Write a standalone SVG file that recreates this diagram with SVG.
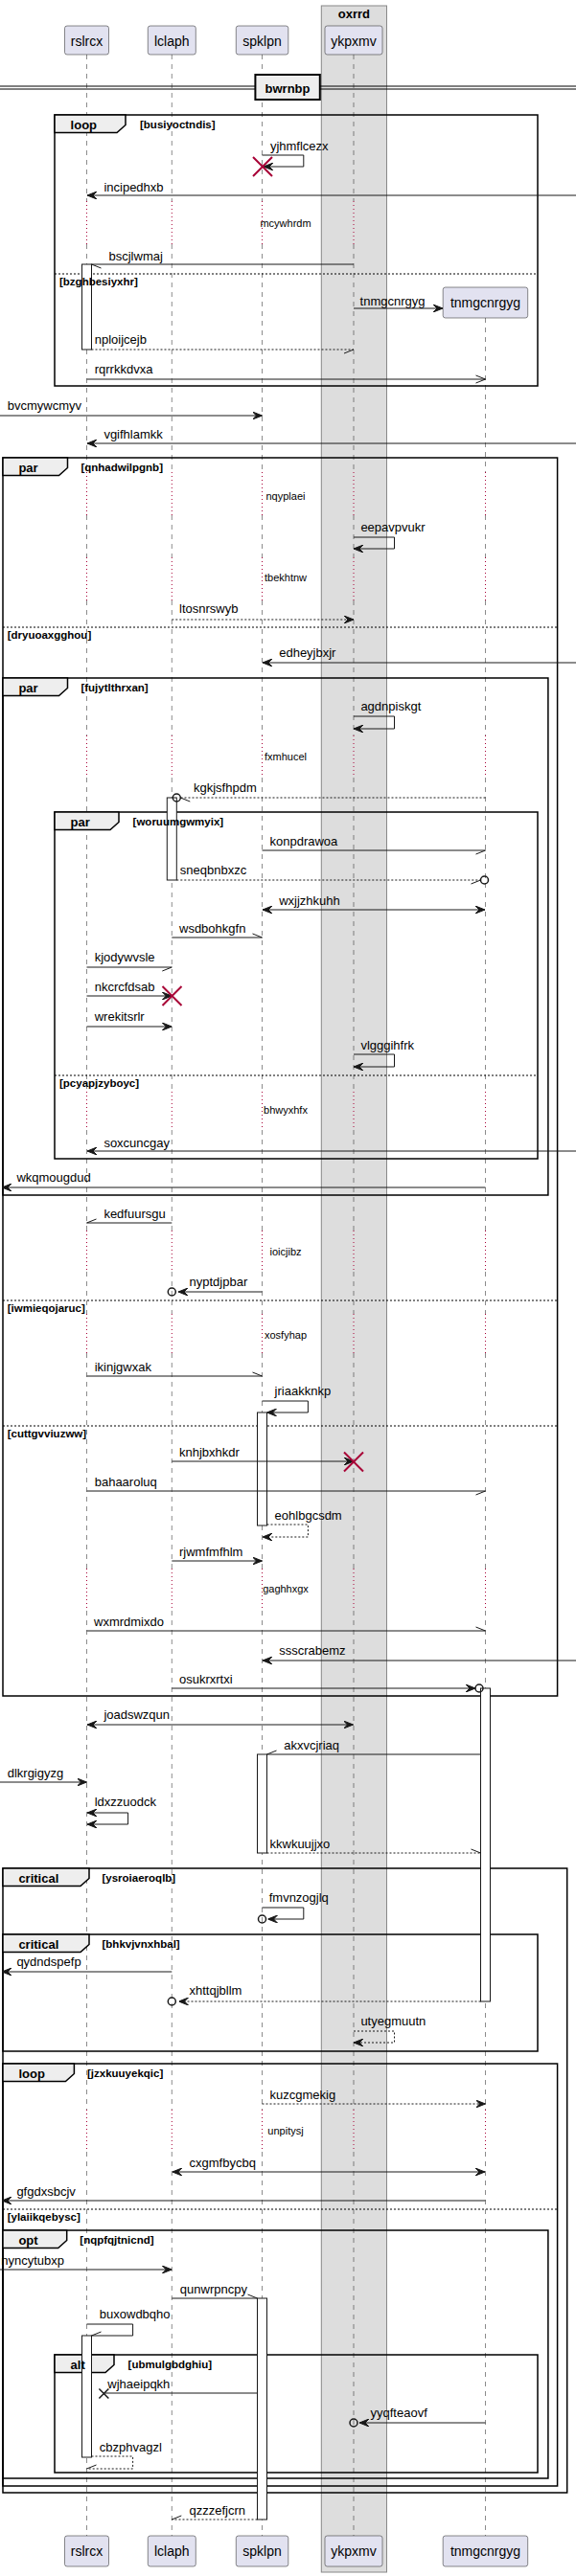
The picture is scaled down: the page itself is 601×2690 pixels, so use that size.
<svg xmlns="http://www.w3.org/2000/svg" width="601" height="2690" viewBox="0 0 601 2690">
<style>
text{font-family:"Liberation Sans",Arial,sans-serif;fill:#000}
.m{font-size:13px}
.d{font-size:11px;text-anchor:middle}
.p{font-size:14px;text-anchor:middle}
.k{font-size:13px;font-weight:bold}
.c{font-size:11.5px;font-weight:bold}
.ll{fill:none;stroke:#181818;stroke-width:0.5;stroke-dasharray:5 5}
.dl{fill:none;stroke:#A80036;stroke-width:1;stroke-dasharray:1 3}
.ln{fill:none;stroke:#181818;stroke-width:1}
.ds{stroke-dasharray:2 2}
.fr{fill:none;stroke:#000;stroke-width:1.5}
.tab{fill:#EEEEEE;stroke:#000;stroke-width:1.5}
.sep{fill:none;stroke:#000;stroke-width:1;stroke-dasharray:2 2}
.act{fill:#fff;stroke:#181818;stroke-width:1}
.box{fill:#E2E2F0;stroke:#181818;stroke-width:0.5}
.x{fill:none;stroke:#A80036;stroke-width:2}
.o{fill:none;stroke:#181818;stroke-width:1.5}
.fa{marker-end:url(#fa)}
.oa{marker-end:url(#oa)}
.ha{marker-end:url(#ha)}
.hb{marker-end:url(#hb)}
.bi{marker-start:url(#fa);marker-end:url(#fa)}
</style>
<defs>
<marker id="fa" viewBox="0 0 10 8" refX="10" refY="4" markerWidth="10" markerHeight="8" markerUnits="userSpaceOnUse" orient="auto-start-reverse"><path d="M0,0 L10,4 L0,8 L4,4 Z" fill="#181818" stroke="#181818" stroke-width="1"/></marker>
<marker id="oa" viewBox="0 0 10 8" refX="10" refY="4" markerWidth="10" markerHeight="8" markerUnits="userSpaceOnUse" orient="auto" style="overflow:visible"><path d="M0,0 L10,4 L0,8" fill="none" stroke="#181818" stroke-width="1"/></marker>
<marker id="ha" viewBox="0 0 10 8" refX="10" refY="4" markerWidth="10" markerHeight="8" markerUnits="userSpaceOnUse" orient="auto" style="overflow:visible"><path d="M0,0 L10,4" fill="none" stroke="#181818" stroke-width="1"/></marker>
<marker id="hb" viewBox="0 0 10 8" refX="10" refY="4" markerWidth="10" markerHeight="8" markerUnits="userSpaceOnUse" orient="auto" style="overflow:visible"><path d="M0,8 L10,4" fill="none" stroke="#181818" stroke-width="1"/></marker>
</defs>
<rect width="601" height="2690" fill="#fff"/>
<g id="box-oxrrd">
<rect x="335.3" y="6" width="68.2" height="2680" fill="#DDDDDD" stroke="#888" stroke-width="1"/>
<text class="k" x="369.4" y="19" text-anchor="middle">oxrrd</text>
</g>
<g id="lifelines">
<path class="ll" d="M90.5,57 V210 M90.5,255 V493 M90.5,538 V582 M90.5,627 V768 M90.5,812 V1140 M90.5,1180 V1285 M90.5,1328 V1372 M90.5,1413 V1638 M90.5,1682 V2203 M90.5,2247 V2648"/>
<path class="ll" d="M179.3,57 V210 M179.3,255 V493 M179.3,538 V582 M179.3,627 V768 M179.3,812 V1140 M179.3,1180 V1285 M179.3,1328 V1372 M179.3,1413 V1638 M179.3,1682 V2203 M179.3,2247 V2648"/>
<path class="ll" d="M273.5,57 V210 M273.5,255 V493 M273.5,538 V582 M273.5,627 V768 M273.5,812 V1140 M273.5,1180 V1285 M273.5,1328 V1372 M273.5,1413 V1638 M273.5,1682 V2203 M273.5,2247 V2648"/>
<path class="ll" d="M369,57 V210 M369,255 V493 M369,538 V582 M369,627 V768 M369,812 V1140 M369,1180 V1285 M369,1328 V1372 M369,1413 V1638 M369,1682 V2203 M369,2247 V2648"/>
<path class="ll" d="M506.5,332 V493 M506.5,538 V582 M506.5,627 V768 M506.5,812 V1140 M506.5,1180 V1285 M506.5,1328 V1372 M506.5,1413 V1638 M506.5,1682 V2203 M506.5,2247 V2648"/>
<path class="dl" d="M90.5,210 V255 M90.5,493 V538 M90.5,582 V627 M90.5,768 V812 M90.5,1140 V1180 M90.5,1285 V1328 M90.5,1372 V1413 M90.5,1638 V1682 M90.5,2203 V2247"/>
<path class="dl" d="M179.3,210 V255 M179.3,493 V538 M179.3,582 V627 M179.3,768 V812 M179.3,1140 V1180 M179.3,1285 V1328 M179.3,1372 V1413 M179.3,1638 V1682 M179.3,2203 V2247"/>
<path class="dl" d="M273.5,210 V255 M273.5,493 V538 M273.5,582 V627 M273.5,768 V812 M273.5,1140 V1180 M273.5,1285 V1328 M273.5,1372 V1413 M273.5,1638 V1682 M273.5,2203 V2247"/>
<path class="dl" d="M369,210 V255 M369,493 V538 M369,582 V627 M369,768 V812 M369,1140 V1180 M369,1285 V1328 M369,1372 V1413 M369,1638 V1682 M369,2203 V2247"/>
<path class="dl" d="M506.5,493 V538 M506.5,582 V627 M506.5,768 V812 M506.5,1140 V1180 M506.5,1285 V1328 M506.5,1372 V1413 M506.5,1638 V1682 M506.5,2203 V2247"/>
</g>
<g id="delays">
<text class="d" x="298" y="237">mcywhrdm</text>
<text class="d" x="298" y="522">nqyplaei</text>
<text class="d" x="298" y="607">tbekhtnw</text>
<text class="d" x="298" y="794">fxmhucel</text>
<text class="d" x="298" y="1163">bhwyxhfx</text>
<text class="d" x="298" y="1311">ioicjibz</text>
<text class="d" x="298" y="1398">xosfyhap</text>
<text class="d" x="298" y="1663">gaghhxgx</text>
<text class="d" x="298" y="2229">unpitysj</text>
</g>
<g id="divider-bwrnbp">
<path d="M0,90 H601 M0,93 H601" stroke="#000" stroke-width="1" fill="none"/>
<rect x="266.4" y="78" width="67.4" height="26" fill="#EEEEEE" stroke="#000" stroke-width="2"/>
<text class="k" x="300" y="96.5" text-anchor="middle">bwrnbp</text>
</g>
<g id="frames">
<rect class="fr" x="57" y="120" width="504" height="283"/>
<path class="tab" d="M57,120 H131 V130.5 L122,138.5 H57 Z"/>
<path class="sep" d="M57,286 H561"/>
<rect class="fr" x="3" y="478" width="578.6" height="1293"/>
<path class="tab" d="M3,478 H70.5 V488.5 L61.5,496.5 H3 Z"/>
<path class="sep" d="M3,655 H581.6"/>
<path class="sep" d="M3,1358 H581.6"/>
<path class="sep" d="M3,1489 H581.6"/>
<rect class="fr" x="3" y="708" width="568.9" height="540"/>
<path class="tab" d="M3,708 H70.5 V718.5 L61.5,726.5 H3 Z"/>
<rect class="fr" x="57" y="848" width="504" height="362"/>
<path class="tab" d="M57,848 H124 V858.5 L115,866.5 H57 Z"/>
<path class="sep" d="M57,1123 H561"/>
<rect class="fr" x="3" y="1951" width="588.7" height="652"/>
<path class="tab" d="M3,1951 H93 V1961.5 L84,1969.5 H3 Z"/>
<rect class="fr" x="3" y="2020" width="558" height="122"/>
<path class="tab" d="M3,2020 H93 V2030.5 L84,2038.5 H3 Z"/>
<rect class="fr" x="3" y="2155" width="578.6" height="441"/>
<path class="tab" d="M3,2155 H77.4 V2165.5 L68.4,2173.5 H3 Z"/>
<path class="sep" d="M3,2307 H581.6"/>
<rect class="fr" x="3" y="2329" width="568.9" height="259"/>
<path class="tab" d="M3,2329 H69.7 V2339.5 L60.7,2347.5 H3 Z"/>
<rect class="fr" x="57" y="2459" width="504" height="123"/>
<path class="tab" d="M57,2459 H119 V2469.5 L110,2477.5 H57 Z"/>
</g>
<g id="activations">
<rect class="act" x="85.5" y="276" width="10" height="89"/>
<rect class="act" x="174.3" y="833" width="10" height="86"/>
<rect class="act" x="268.5" y="1475" width="10" height="118"/>
<rect class="act" x="501.5" y="1763" width="10" height="327"/>
<rect class="act" x="268.5" y="1832" width="10" height="103"/>
<rect class="act" x="268.5" y="2400" width="10" height="231"/>
<rect class="act" x="85.5" y="2439" width="10" height="127"/>
</g>
<g id="frame-labels">
<text class="k" x="73.6" y="134.5">loop</text>
<text class="c" x="146" y="133.5">[busiyoctndis]</text>
<text class="c" x="62" y="297.5">[bzghbesiyxhr]</text>
<text class="k" x="19.4" y="492.5">par</text>
<text class="c" x="84.4" y="491.5">[qnhadwilpgnb]</text>
<text class="c" x="7.7" y="666.5">[dryuoaxgghou]</text>
<text class="c" x="7.7" y="1369.5">[iwmieqojaruc]</text>
<text class="c" x="7.7" y="1500.5">[cuttgvviuzww]</text>
<text class="k" x="19.4" y="722.5">par</text>
<text class="c" x="84.4" y="721.5">[fujytlthrxan]</text>
<text class="k" x="73.6" y="862.5">par</text>
<text class="c" x="138.6" y="861.5">[woruumgwmyix]</text>
<text class="c" x="62" y="1134.5">[pcyapjzyboyc]</text>
<text class="k" x="19.4" y="1965.5">critical</text>
<text class="c" x="106.5" y="1964.5">[ysroiaeroqlb]</text>
<text class="k" x="19.4" y="2034.5">critical</text>
<text class="c" x="106.5" y="2033.5">[bhkvjvnxhbal]</text>
<text class="k" x="19.4" y="2169.5">loop</text>
<text class="c" x="91" y="2168.5">[jzxkuuyekqic]</text>
<text class="c" x="7.7" y="2318.5">[ylaiikqebysc]</text>
<text class="k" x="19.4" y="2343.5">opt</text>
<text class="c" x="83.3" y="2342.5">[nqpfqjtnicnd]</text>
<text class="k" x="73.6" y="2473.5">alt</text>
<text class="c" x="133.6" y="2472.5">[ubmulgbdghiu]</text>
</g>
<g id="connectors">
<path class="ln fa" d="M273.5,162 H316.8 V174 H275"/>
<text class="m" x="281.9" y="157">yjhmflcezx</text>
<path class="x" d="M264,164 L284,184 M284,164 L264,184"/>
<path class="ln fa" d="M601,204 H91"/>
<text class="m" x="108.4" y="200">incipedhxb</text>
<path class="ln ha" d="M369,276 H95.5"/>
<text class="m" x="113.5" y="272">bscjlwmaj</text>
<path class="ln fa" d="M369,322 H462"/>
<text class="m" x="375.6" y="319">tnmgcnrgyg</text>
<path class="ln ds hb" d="M95.5,365 H369"/>
<text class="m" x="98.7" y="359">nploijcejb</text>
<path class="ln oa" d="M90.5,396 H506.5"/>
<text class="m" x="98.7" y="390">rqrrkkdvxa</text>
<path class="ln fa" d="M0,434 H273.5"/>
<text class="m" x="7.7" y="428">bvcmywcmyv</text>
<path class="ln fa" d="M601,463 H91"/>
<text class="m" x="108.4" y="458">vgifhlamkk</text>
<path class="ln fa" d="M369,561 H411.5 V573 H369"/>
<text class="m" x="376.4" y="555">eepavpvukr</text>
<path class="ln ds fa" d="M179.3,647 H369"/>
<text class="m" x="187" y="640">ltosnrswyb</text>
<path class="ln fa" d="M601,692 H274"/>
<text class="m" x="291.2" y="686">edheyjbxjr</text>
<path class="ln fa" d="M369,748 H411.5 V761 H369"/>
<text class="m" x="376.4" y="742">agdnpiskgt</text>
<path class="ln ds ha" d="M506.5,833 H188.3"/>
<circle class="o" cx="184.3" cy="833" r="4"/>
<text class="m" x="202" y="827">kgkjsfhpdm</text>
<path class="ln hb" d="M273.5,888 H506.5"/>
<text class="m" x="281.5" y="883">konpdrawoa</text>
<path class="ln ds hb" d="M184.3,919 H501.5"/>
<circle class="o" cx="505.5" cy="919" r="4"/>
<text class="m" x="187.8" y="913">sneqbnbxzc</text>
<path class="ln bi" d="M274,950 H506"/>
<text class="m" x="291.2" y="945">wxjjzhkuhh</text>
<path class="ln ha" d="M179.3,979 H273.5"/>
<text class="m" x="187" y="974">wsdbohkgfn</text>
<path class="ln hb" d="M90.5,1010 H179.3"/>
<text class="m" x="98.7" y="1004">kjodywvsle</text>
<path class="ln fa" d="M90.5,1040 H179.3"/>
<path class="x" d="M169.5,1030 L189.5,1050 M189.5,1030 L169.5,1050"/>
<text class="m" x="98.7" y="1035">nkcrcfdsab</text>
<path class="ln fa" d="M90.5,1072 H179.3"/>
<text class="m" x="98.7" y="1066">wrekitsrlr</text>
<path class="ln fa" d="M369,1101 H411.5 V1114 H369"/>
<text class="m" x="376.4" y="1096">vlgggihfrk</text>
<path class="ln fa" d="M601,1202 H91"/>
<text class="m" x="108.4" y="1198">soxcuncgay</text>
<path class="ln fa" d="M506.5,1240 H2"/>
<text class="m" x="17.4" y="1234">wkqmougdud</text>
<path class="ln hb" d="M179.3,1277 H90.5"/>
<text class="m" x="108.4" y="1272">kedfuursgu</text>
<path class="ln fa" d="M273.5,1349 H186"/>
<circle class="o" cx="179.3" cy="1349" r="4"/>
<text class="m" x="197.5" y="1343">nyptdjpbar</text>
<path class="ln ha" d="M90.5,1437 H273.5"/>
<text class="m" x="98.7" y="1432">ikinjgwxak</text>
<path class="ln fa" d="M273.5,1463 H321.4 V1475 H278.5"/>
<text class="m" x="286.6" y="1457">jriaakknkp</text>
<path class="ln fa" d="M179.3,1526 H369"/>
<path class="x" d="M359,1516.5 L379,1536.5 M379,1516.5 L359,1536.5"/>
<text class="m" x="187" y="1521">knhjbxhkdr</text>
<path class="ln hb" d="M90.5,1557 H506.5"/>
<text class="m" x="98.7" y="1552">bahaaroluq</text>
<path class="ln ds fa" d="M278.5,1592 H321.4 V1605 H274"/>
<text class="m" x="286.6" y="1587">eohlbgcsdm</text>
<path class="ln fa" d="M179.3,1630 H273.5"/>
<text class="m" x="187" y="1625">rjwmfmfhlm</text>
<path class="ln ha" d="M90.5,1703 H506.5"/>
<text class="m" x="98" y="1698">wxmrdmixdo</text>
<path class="ln fa" d="M601,1734 H274"/>
<text class="m" x="291.2" y="1728">ssscrabemz</text>
<path class="ln fa" d="M179.3,1763 H496"/>
<circle class="o" cx="500" cy="1763" r="4"/>
<text class="m" x="187" y="1758">osukrxrtxi</text>
<path class="ln bi" d="M91,1801 H368.5"/>
<text class="m" x="108.4" y="1795">joadswzqun</text>
<path class="ln hb" d="M501.5,1832 H278.5"/>
<text class="m" x="296.2" y="1827">akxvcjriaq</text>
<path class="ln fa" d="M0,1861 H90.5"/>
<text class="m" x="7.7" y="1856">dlkrgigyzg</text>
<path class="ln bi" d="M91,1893 H133.6 V1905 H91"/>
<text class="m" x="98.7" y="1886">ldxzzuodck</text>
<path class="ln ds ha" d="M278.5,1935 H501.5"/>
<text class="m" x="281.5" y="1930">kkwkuujjxo</text>
<path class="ln fa" d="M273.5,1992 H316.8 V2004 H279.5"/>
<circle class="o" cx="273.5" cy="2004" r="4"/>
<text class="m" x="280.7" y="1986">fmvnzogjlq</text>
<path class="ln fa" d="M179.3,2059 H2"/>
<text class="m" x="17.4" y="2053">qydndspefp</text>
<path class="ln ds fa" d="M501.5,2090 H186.5"/>
<circle class="o" cx="179.3" cy="2090" r="4"/>
<text class="m" x="197.5" y="2083">xhttqjbllm</text>
<path class="ln ds fa" d="M369,2121 H411.5 V2133 H369"/>
<text class="m" x="376.4" y="2115">utyegmuutn</text>
<path class="ln ds fa" d="M273.5,2197 H506.5"/>
<text class="m" x="281.5" y="2192">kuzcgmekig</text>
<path class="ln bi" d="M179.8,2268 H506"/>
<text class="m" x="197.5" y="2263">cxgmfbycbq</text>
<path class="ln fa" d="M506.5,2298 H2"/>
<text class="m" x="17.4" y="2293">gfgdxsbcjv</text>
<path class="ln fa" d="M0,2370 H179.3"/>
<text class="m" x="1.2" y="2365">nyncytubxp</text>
<path class="ln ha" d="M179.3,2400 H268.5"/>
<text class="m" x="187.8" y="2395">qunwrpncpy</text>
<path class="ln hb" d="M90.5,2427 H138.6 V2439 H95.5"/>
<text class="m" x="103.8" y="2421">buxowdbqho</text>
<path class="ln" d="M268.5,2499 H108.4"/>
<path d="M103.4,2494.5 L113.4,2504.5 M113.4,2494.5 L103.4,2504.5" fill="none" stroke="#181818" stroke-width="1.5"/>
<text class="m" x="112.3" y="2494">wjhaeipqkh</text>
<path class="ln fa" d="M506.5,2530 H375"/>
<circle class="o" cx="369" cy="2530" r="4"/>
<text class="m" x="386.5" y="2524">yyqfteaovf</text>
<path class="ln ds hb" d="M95.5,2565 H138.6 V2578 H90.5"/>
<text class="m" x="103.8" y="2560">cbzphvagzl</text>
<path class="ln ds hb" d="M268.5,2631 H179.3"/>
<text class="m" x="197.5" y="2626">qzzzefjcrn</text>
</g>
<g id="p-rslrcx">
<rect class="box" x="67.5" y="27" width="46" height="30" rx="2.5"/>
<text class="p" x="90.5" y="47.5">rslrcx</text>
<rect class="box" x="67.5" y="2648" width="46" height="32" rx="2.5"/>
<text class="p" x="90.5" y="2668.5">rslrcx</text>
</g>
<g id="p-lclaph">
<rect class="box" x="154.3" y="27" width="50" height="30" rx="2.5"/>
<text class="p" x="179.3" y="47.5">lclaph</text>
<rect class="box" x="154.3" y="2648" width="50" height="32" rx="2.5"/>
<text class="p" x="179.3" y="2668.5">lclaph</text>
</g>
<g id="p-spklpn">
<rect class="box" x="246.3" y="27" width="54.5" height="30" rx="2.5"/>
<text class="p" x="273.5" y="47.5">spklpn</text>
<rect class="box" x="246.3" y="2648" width="54.5" height="32" rx="2.5"/>
<text class="p" x="273.5" y="2668.5">spklpn</text>
</g>
<g id="p-ykpxmv">
<rect class="box" x="339" y="27" width="60" height="30" rx="2.5"/>
<text class="p" x="369" y="47.5">ykpxmv</text>
<rect class="box" x="339" y="2648" width="60" height="32" rx="2.5"/>
<text class="p" x="369" y="2668.5">ykpxmv</text>
</g>
<g id="p-tnmgcnrgyg">
<rect class="box" x="462.2" y="300" width="88.5" height="32" rx="2.5"/>
<text class="p" x="506.5" y="320.5">tnmgcnrgyg</text>
<rect class="box" x="462.2" y="2648" width="88.5" height="32" rx="2.5"/>
<text class="p" x="506.5" y="2668.5">tnmgcnrgyg</text>
</g>
</svg>
